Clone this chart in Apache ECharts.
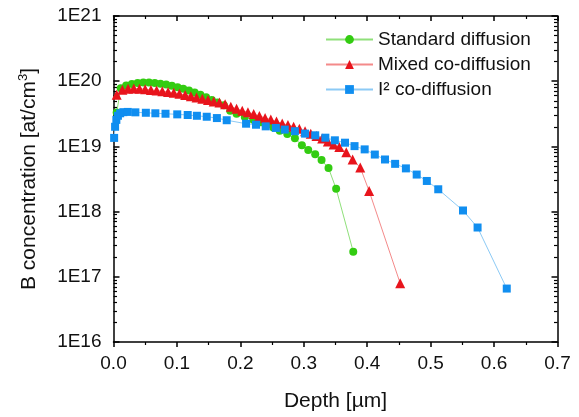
<!DOCTYPE html>
<html>
<head>
<meta charset="utf-8">
<script src="https://cdn.jsdelivr.net/npm/echarts@6/dist/echarts.min.js"></script>
<style>
html,body{margin:0;padding:0;background:#fff;}
#c{width:579px;height:417px;}
</style>
</head>
<body>
<div id="c"></div>
<script>
// ---- data (depth in µm, concentration in at/cm3) ----
var seriesNames = ['Standard diffusion', 'Mixed co-diffusion', 'I\u00b2 co-diffusion'];

var stdDepth = [0.005,0.0114,0.020,0.029,0.038,0.047,0.056,0.065,0.074,0.083,0.092,0.101,0.110,0.119,0.128,0.137,0.146,0.155,0.164,0.174,0.184,0.194,0.207,0.2205,0.232,0.242,0.252,0.262,0.274,0.286,0.297,0.307,0.318,0.328,0.339,0.351,0.378];
var stdConc = [3.31e19,7.83e19,8.61e19,9.08e19,9.38e19,9.51e19,9.51e19,9.38e19,9.16e19,8.87e19,8.51e19,8.09e19,7.67e19,7.21e19,6.68e19,6.17e19,5.65e19,5.15e19,4.70e19,4.27e19,3.51e19,3.16e19,2.82e19,2.57e19,2.34e19,2.14e19,1.95e19,1.74e19,1.55e19,1.33e19,1.04e19,8.79e18,7.59e18,6.17e18,4.65e18,2.24e18,2.42e17];

var mixDepth = [0.005,0.014,0.023,0.032,0.041,0.050,0.059,0.068,0.077,0.086,0.095,0.104,0.113,0.122,0.131,0.140,0.149,0.158,0.167,0.176,0.185,0.194,0.203,0.212,0.221,0.230,0.239,0.248,0.257,0.266,0.275,0.284,0.293,0.302,0.311,0.320,0.329,0.338,0.347,0.356,0.367,0.377,0.389,0.403,0.452];
var mixConc = [6.17e19,7.41e19,7.67e19,7.73e19,7.67e19,7.53e19,7.35e19,7.18e19,7.01e19,6.85e19,6.64e19,6.40e19,6.14e19,5.89e19,5.62e19,5.37e19,5.13e19,4.90e19,4.70e19,4.42e19,4.07e19,3.77e19,3.52e19,3.33e19,3.14e19,2.92e19,2.73e19,2.58e19,2.40e19,2.25e19,2.12e19,2.00e19,1.86e19,1.70e19,1.56e19,1.45e19,1.32e19,1.19e19,1.07e19,9.77e18,8.13e18,6.31e18,4.74e18,2.07e18,7.94e16];

var i2Depth = [0.001,0.0025,0.0045,0.007,0.0105,0.0155,0.0225,0.0345,0.051,0.066,0.082,0.1005,0.117,0.1315,0.147,0.163,0.1785,0.209,0.2247,0.240,0.256,0.270,0.286,0.302,0.318,0.334,0.349,0.365,0.380,0.396,0.412,0.428,0.444,0.461,0.478,0.494,0.512,0.551,0.574,0.620];
var i2Conc = [1.35e19,2.0e19,2.55e19,2.95e19,3.22e19,3.35e19,3.38e19,3.33e19,3.28e19,3.22e19,3.17e19,3.10e19,3.03e19,2.95e19,2.85e19,2.72e19,2.52e19,2.23e19,2.15e19,2.03e19,1.92e19,1.81e19,1.71e19,1.57e19,1.48e19,1.36e19,1.24e19,1.14e19,1.01e19,9.0e18,7.5e18,6.3e18,5.4e18,4.6e18,3.7e18,2.95e18,2.2e18,1.04e18,5.7e17,6.6e16];

var xTickLabels = ['0.0','0.1','0.2','0.3','0.4','0.5','0.6','0.7'];
var yTickLabels = ['1E16','1E17','1E18','1E19','1E20','1E21'];

function pairs(xs, ys){ return xs.map(function(x,i){ return [x, ys[i]]; }); }

// minor tick positions of log axis (log10 space: 2..9 within each decade)
var minorLog = [];
for (var e = 16; e < 21; e++) { for (var k = 2; k <= 9; k++) { minorLog.push(e + Math.log10(k)); } }

var FONT = 'Liberation Sans, Arial, sans-serif';
var TXT = '#111';
var AX = {lineStyle:{color:'#000', width:1.5}};

var chart = echarts.init(document.getElementById('c'), null, {renderer:'canvas'});
chart.setOption({
  animation:false,
  backgroundColor:'#fff',
  textStyle:{fontFamily:FONT},
  grid:{left:113.5, right:21.5, top:16, bottom:72, containLabel:false},
  legend:{
    orient:'vertical', left:325, top:30, padding:0, itemWidth:47, itemHeight:11, itemGap:6,
    textStyle:{fontFamily:FONT, fontSize:19, color:TXT},
    data:seriesNames
  },
  xAxis:[
    {type:'value', min:0, max:0.7, interval:0.1, position:'bottom',
     name:'Depth [\u00b5m]', nameLocation:'middle', nameGap:49,
     nameTextStyle:{fontFamily:FONT, fontSize:21, color:TXT},
     axisLine:AX, axisTick:{inside:false, length:5, lineStyle:{color:'#000', width:1.5}},
     minorTick:{show:true, splitNumber:2, length:3, lineStyle:{color:'#000', width:1.2}},
     splitLine:{show:false},
     axisLabel:{fontFamily:FONT, fontSize:19, color:TXT, margin:12,
       formatter:function(v){ return xTickLabels[Math.round(v*10)]; }}},
    {type:'value', min:0, max:0.7, interval:0.1, position:'top',
     axisLine:AX, axisTick:{inside:true, length:5, lineStyle:{color:'#000', width:1.5}},
     minorTick:{show:true, splitNumber:2, length:3, lineStyle:{color:'#000', width:1.2}},
     splitLine:{show:false}, axisLabel:{show:false}}
  ],
  yAxis:[
    {type:'log', logBase:10, min:1e16, max:1e21, position:'left',
     name:'{a|B concentration [at/cm}{s|3}{a|]}', nameLocation:'middle', nameGap:71,
     nameTextStyle:{fontFamily:FONT, color:TXT,
       rich:{a:{fontSize:21, fontFamily:FONT, color:TXT, lineHeight:26},
             s:{fontSize:13, fontFamily:FONT, color:TXT, verticalAlign:'top', lineHeight:26, padding:[0,0,12,0]}}},
     axisLine:AX, axisTick:{inside:true, length:6, lineStyle:{color:'#000', width:1.5}},
     splitLine:{show:false},
     axisLabel:{fontFamily:FONT, fontSize:19, color:TXT, margin:12,
       formatter:function(v){ return yTickLabels[Math.round(Math.log10(v)) - 16]; }}},
    {type:'value', min:16, max:21, position:'left', axisLine:{show:false},
     axisTick:{show:true, inside:true, length:3.5, lineStyle:{color:'#000', width:1.2}, customValues:minorLog},
     axisLabel:{show:false}, splitLine:{show:false}},
    {type:'log', logBase:10, min:1e16, max:1e21, position:'right',
     axisLine:AX, axisTick:{inside:true, length:6, lineStyle:{color:'#000', width:1.5}},
     splitLine:{show:false}, axisLabel:{show:false}},
    {type:'value', min:16, max:21, position:'right', axisLine:{show:false},
     axisTick:{show:true, inside:true, length:3.5, lineStyle:{color:'#000', width:1.2}, customValues:minorLog},
     axisLabel:{show:false}, splitLine:{show:false}}
  ],
  series:[
    {name:seriesNames[0], type:'line', xAxisIndex:0, yAxisIndex:0, data:pairs(stdDepth, stdConc),
     symbol:'circle', symbolSize:8, showAllSymbol:true,
     lineStyle:{color:'#8fe07a', width:1}, itemStyle:{color:'#33cc11'}},
    {name:seriesNames[1], type:'line', xAxisIndex:0, yAxisIndex:0, data:pairs(mixDepth, mixConc),
     symbol:'triangle', symbolSize:10, showAllSymbol:true,
     lineStyle:{color:'#f48a8a', width:1}, itemStyle:{color:'#e8141c'}},
    {name:seriesNames[2], type:'line', xAxisIndex:0, yAxisIndex:0, data:pairs(i2Depth, i2Conc),
     symbol:'rect', symbolSize:8, showAllSymbol:true,
     lineStyle:{color:'#8ccaf5', width:1}, itemStyle:{color:'#108ef0'}}
  ]
});
</script>
</body>
</html>
